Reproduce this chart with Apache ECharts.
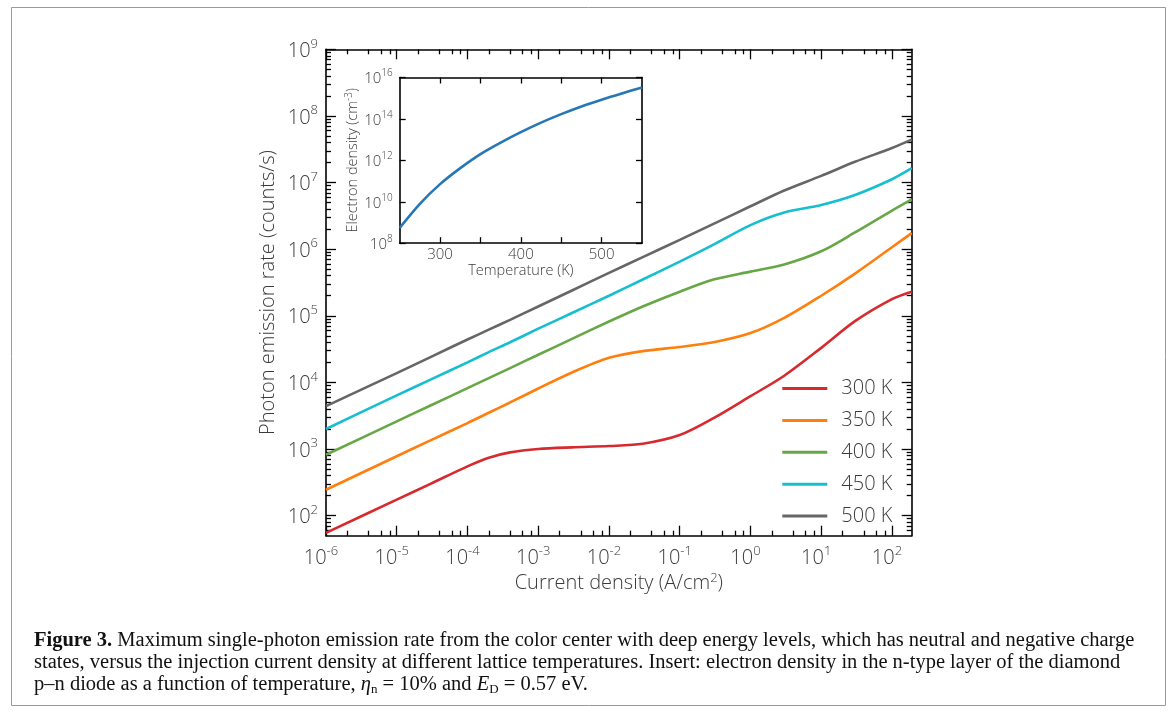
<!DOCTYPE html>
<html><head><meta charset="utf-8">
<script src="https://cdn.jsdelivr.net/npm/echarts@6/dist/echarts.min.js"></script>
<style>html,body{margin:0;padding:0;background:#fff}#c{width:1171px;height:717px}</style>
</head><body><div id="c"></div>
<script>
// ---------------- data ----------------
const currentDensity = [1e-6, 1e-5, 3e-5, 1e-4, 2e-4, 4e-4, 1e-3, 3e-3, 1e-2, 3e-2, 0.1, 0.3, 1, 3, 10, 30, 100, 190];
const rate300K = [55, 174, 300, 550, 740, 890, 1000, 1060, 1110, 1200, 1620, 2900, 6200, 12600, 33000, 83000, 178000, 230000];
const rate350K = [245, 780, 1350, 2450, 3500, 5000, 8100, 14100, 23400, 29500, 34000, 40000, 55000, 93000, 200000, 430000, 1070000, 1740000];
const rate400K = [820, 2600, 4500, 8200, 11600, 16400, 26000, 45000, 82000, 138000, 230000, 350000, 460000, 590000, 930000, 1780000, 3800000, 5600000];
const rate450K = [2000, 6400, 11000, 20000, 28500, 40000, 64000, 110000, 200000, 350000, 650000, 1170000, 2300000, 3550000, 4600000, 6500000, 11200000, 16400000];
const rate500K = [4400, 13800, 24000, 44000, 62000, 87000, 138000, 240000, 440000, 760000, 1380000, 2400000, 4400000, 7600000, 12600000, 20500000, 33000000, 44000000];
const seriesNames = ['300 K', '350 K', '400 K', '450 K', '500 K'];
const seriesColors = ['#d62a2e', '#ff7f0e', '#67a746', '#17becf', '#666666'];

const temperature = [250, 275, 300, 325, 350, 375, 400, 425, 450, 475, 500, 525, 550];
const electronDensity = [5.5e8, 8.0e9, 7.1e10, 4.2e11, 2.0e12, 7.2e12, 2.3e13, 6.6e13, 1.7e14, 4.0e14, 8.5e14, 1.7e15, 3.3e15];

const rateAxisMin = 50, rateAxisMax = 1e9;
const xDecadeExponents = [-6, -5, -4, -3, -2, -1, 0, 1, 2];
const yDecadeExponents = [2, 3, 4, 5, 6, 7, 8, 9];
const insetYExponents = [8, 10, 12, 14, 16];
const insetTempLabels = [300, 400, 500];
const insetTempTicks = [300, 350, 400, 450, 500];
const insetTempMin = 250, insetTempMax = 550;

const captionLines = [
  '{fb|Figure 3.} Maximum single-photon emission rate from the color center with deep energy levels, which has neutral and negative charge',
  'states, versus the injection current density at different lattice temperatures. Insert: electron density in the n-type layer of the diamond',
  'p–n diode as a function of temperature, {it|η}{sub|n} = 10% and {it|E}{sub|D} = 0.57 eV.'
];

// ---------------- chart ----------------
const lg = Math.log10;
const FONT = 'Open Sans';
const TXT = '#3a3a3a';
const rates = [rate300K, rate350K, rate400K, rate450K, rate500K];

const xMin = lg(currentDensity[0]), xMax = lg(currentDensity[currentDensity.length - 1]);
const yMin = lg(rateAxisMin), yMax = lg(rateAxisMax);

function minorLogTicks(lo, hi, ks) {
  const out = [];
  for (let n = Math.floor(lo) - 1; n <= Math.ceil(hi); n++) {
    for (const k of ks) { const v = n + lg(k); if (v > lo + 1e-6 && v < hi - 1e-6) out.push(v); }
  }
  return out;
}
const xMinor = minorLogTicks(xMin, xMax, [2, 4, 6, 8]);
const yMinor = minorLogTicks(yMin, yMax, [2, 3, 4, 5, 6, 7, 8, 9]);

const richMain = {
  b: { fontFamily: FONT, fontSize: 20, lineHeight: 24, verticalAlign: 'bottom', color: TXT, fontWeight: 300 },
  s: { fontFamily: FONT, fontSize: 13, lineHeight: 14, verticalAlign: 'top', color: TXT, fontWeight: 300 }
};
const richInset = {
  b: { fontFamily: FONT, fontSize: 15, lineHeight: 18, verticalAlign: 'bottom', color: TXT, fontWeight: 300 },
  s: { fontFamily: FONT, fontSize: 10, lineHeight: 11, verticalAlign: 'top', color: TXT, fontWeight: 300 }
};
const powFmt = v => '{b|10}{s|' + Math.round(v) + '}';

const lineBlack = { color: '#000', width: 1.6 };
const tickMajor = { color: '#000', width: 1.3 };

function frameAxis(grid, pos, min, max, ticks, len, showLine, extra) {
  return Object.assign({
    gridIndex: grid, type: 'value', position: pos, min: min, max: max,
    axisLine: { show: showLine, onZero: false, lineStyle: lineBlack },
    axisTick: { show: true, inside: true, length: len, customValues: ticks, lineStyle: tickMajor },
    axisLabel: { show: false },
    splitLine: { show: false },
    nameMoveOverlap: false
  }, extra || {});
}

const option = {
  animation: false,
  backgroundColor: '#ffffff',
  grid: [
    { left: 326, top: 49.3, right: 1171 - 911.7, bottom: 717 - 535.7, outerBoundsMode: 'none', containLabel: false },
    { left: 399.7, top: 77.5, right: 1171 - 642, bottom: 717 - 243.2, outerBoundsMode: 'none', containLabel: false }
  ],
  legend: {
    data: seriesNames, orient: 'vertical', left: 782.3, top: 378.5, padding: 0,
    icon: 'rect', itemWidth: 45, itemHeight: 3, itemGap: 11.9,
    textStyle: { fontFamily: FONT, fontSize: 20, lineHeight: 20, color: TXT, fontWeight: 300, padding: [0, 0, 0, 9] }
  },
  xAxis: [
    frameAxis(0, 'bottom', xMin, xMax, xDecadeExponents, 10, true, {
      axisLabel: { show: true, customValues: xDecadeExponents, formatter: powFmt, rich: richMain, margin: 9, padding: [0, 10, 0, 0] },
      name: 'Current density (A/cm{ns|2})', nameLocation: 'middle', nameGap: 36,
      nameTextStyle: { fontFamily: FONT, fontSize: 20, lineHeight: 24, color: TXT, fontWeight: 300,
        rich: { ns: { fontFamily: FONT, fontSize: 13, lineHeight: 14, verticalAlign: 'top', color: TXT, fontWeight: 300 } } }
    }),
    frameAxis(0, 'bottom', xMin, xMax, xMinor, 5, false),
    frameAxis(0, 'top', xMin, xMax, xDecadeExponents, 10, true),
    frameAxis(0, 'top', xMin, xMax, xMinor, 5, false),
    frameAxis(1, 'bottom', insetTempMin, insetTempMax, insetTempTicks, 6, true, {
      axisLabel: { show: true, customValues: insetTempLabels, margin: 4, fontFamily: FONT, fontSize: 15, color: TXT, fontWeight: 300 },
      name: 'Temperature (K)', nameLocation: 'middle', nameGap: 20,
      nameTextStyle: { fontFamily: FONT, fontSize: 14.5, color: TXT, fontWeight: 300 }
    }),
    frameAxis(1, 'top', insetTempMin, insetTempMax, insetTempTicks, 6, true)
  ],
  yAxis: [
    frameAxis(0, 'left', yMin, yMax, yDecadeExponents, 10, true, {
      axisLabel: { show: true, customValues: yDecadeExponents, formatter: powFmt, rich: richMain, margin: 8 },
      name: 'Photon emission rate (counts/s)', nameLocation: 'middle', nameGap: 46, nameRotate: 90,
      nameTextStyle: { fontFamily: FONT, fontSize: 20, lineHeight: 24, color: TXT, fontWeight: 300 }
    }),
    frameAxis(0, 'left', yMin, yMax, yMinor, 5, false),
    frameAxis(0, 'right', yMin, yMax, yDecadeExponents, 10, true),
    frameAxis(0, 'right', yMin, yMax, yMinor, 5, false),
    frameAxis(1, 'left', insetYExponents[0], insetYExponents[insetYExponents.length - 1], insetYExponents, 6, true, {
      axisLabel: { show: true, customValues: insetYExponents, formatter: powFmt, rich: richInset, margin: 7 },
      name: 'Electron density (cm{ns|-3})', nameLocation: 'middle', nameGap: 38, nameRotate: 90,
      nameTextStyle: { fontFamily: FONT, fontSize: 14.5, lineHeight: 18, color: TXT, fontWeight: 300,
        rich: { ns: { fontFamily: FONT, fontSize: 10, lineHeight: 11, verticalAlign: 'top', color: TXT, fontWeight: 300 } } }
    }),
    frameAxis(1, 'right', insetYExponents[0], insetYExponents[insetYExponents.length - 1], insetYExponents, 6, true)
  ],
  series: seriesNames.map((name, i) => ({
    type: 'line', name: name, xAxisIndex: 0, yAxisIndex: 0,
    data: currentDensity.map((j, k) => [lg(j), lg(rates[i][k])]),
    showSymbol: false, symbol: 'none', smooth: 0.3,
    lineStyle: { color: seriesColors[i], width: 2.6 }, itemStyle: { color: seriesColors[i] },
    z: 3
  })).concat([{
    type: 'line', name: 'inset', xAxisIndex: 4, yAxisIndex: 4,
    data: temperature.map((t, k) => [t, lg(electronDensity[k])]),
    showSymbol: false, symbol: 'none', smooth: 0.3,
    lineStyle: { color: '#2677b5', width: 2.6 }, itemStyle: { color: '#2677b5' }, z: 3
  }]),
  graphic: [
    { type: 'rect', shape: { x: 11.5, y: 7.5, width: 1154, height: 698 }, style: { fill: 'none', stroke: '#9a9a9a', lineWidth: 1 }, silent: true, z: -1 }
  ].concat(captionLines.map((t, i) => ({
    type: 'text', left: 34, top: 630 + 22 * i, silent: true,
    style: {
      text: t, fontFamily: 'Liberation Serif', fontSize: 20.5, lineHeight: 22, fill: '#111',
      rich: {
        fb: { fontFamily: 'Liberation Serif', fontSize: 20.5, lineHeight: 22, fontWeight: 'bold', fill: '#111' },
        it: { fontFamily: 'Liberation Serif', fontSize: 20.5, lineHeight: 22, fontStyle: 'italic', fill: '#111' },
        sub: { fontFamily: 'Liberation Serif', fontSize: 13, lineHeight: 13, verticalAlign: 'bottom', fill: '#111' }
      }
    }
  })))
};

const chart = echarts.init(document.getElementById('c'), null, { renderer: 'canvas', width: 1171, height: 717 });
chart.setOption(option);
</script>
</body></html>
